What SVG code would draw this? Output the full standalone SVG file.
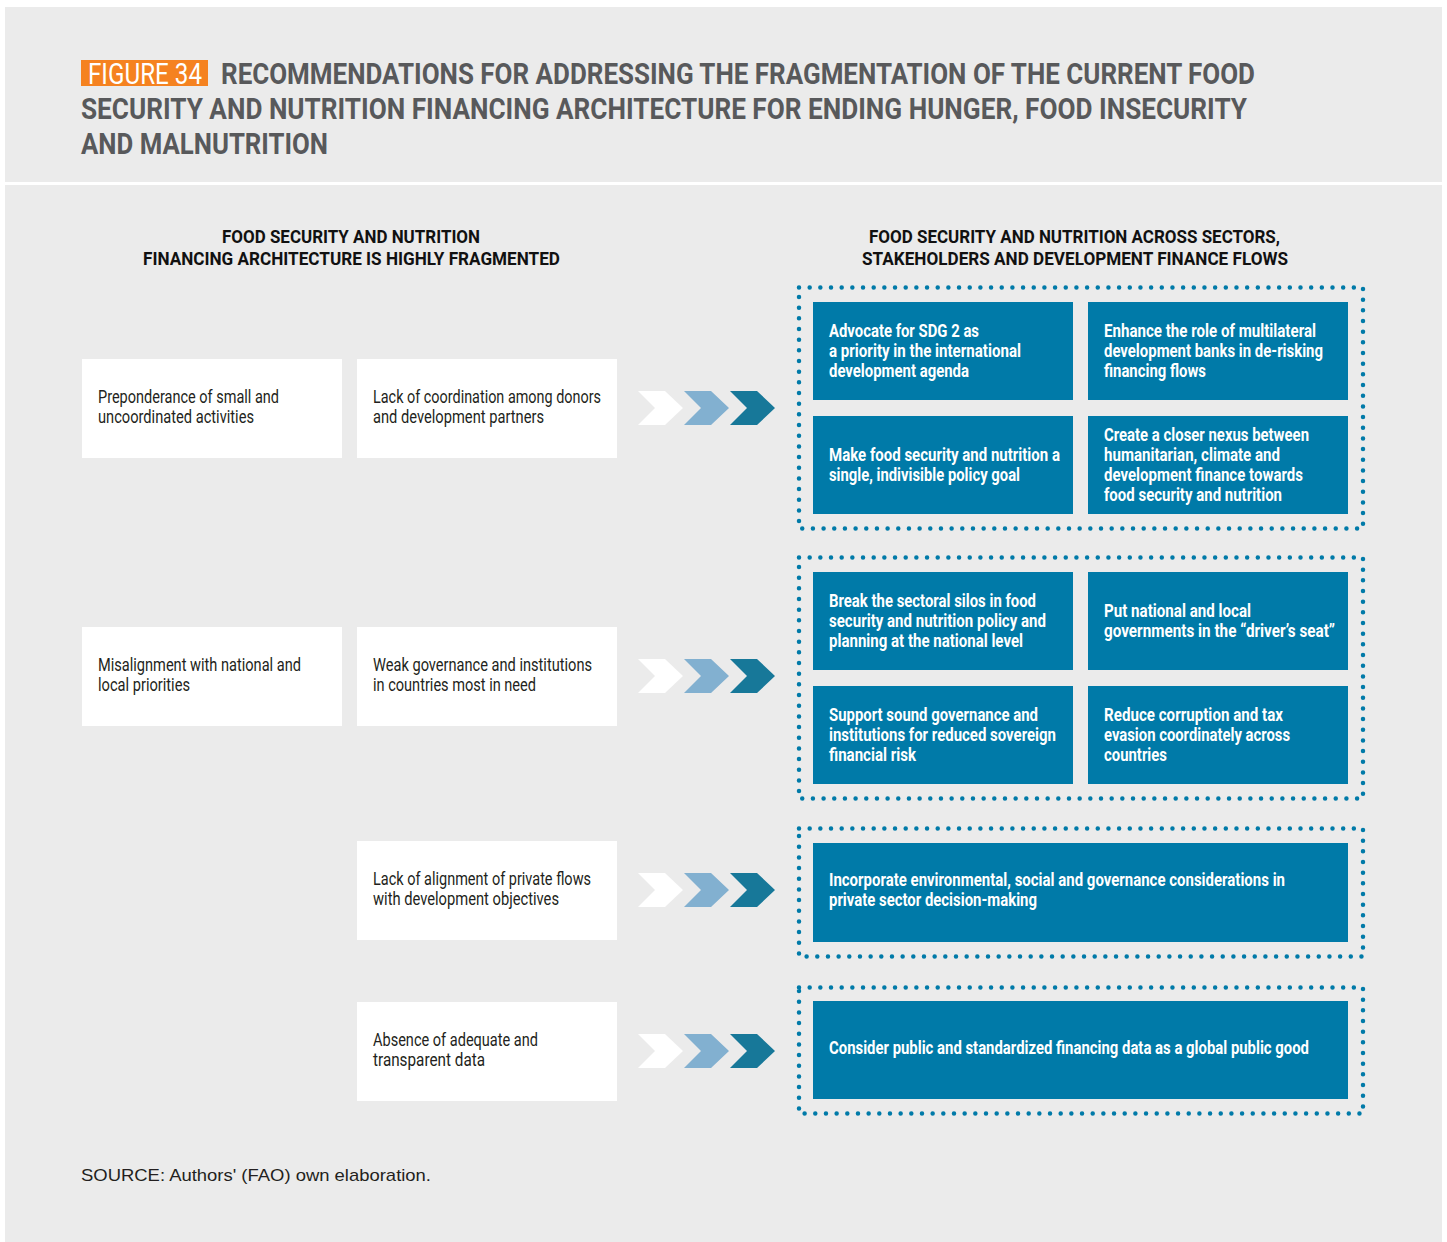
<svg xmlns="http://www.w3.org/2000/svg" width="1447" height="1242" viewBox="0 0 1447 1242">
<style>
.t{font-family:Roboto,"Liberation Sans",sans-serif;}
.title{font-weight:700;font-size:29px;fill:#58595b;}
.fig{font-weight:400;font-size:29px;fill:#ffffff;}
.hdr{font-weight:700;font-size:18.5px;fill:#111111;}
.wt{font-weight:400;font-size:18px;fill:#231f20;}
.bt{font-weight:700;font-size:18px;fill:#ffffff;}
.src{font-family:"Liberation Sans",Arial,sans-serif;font-size:17px;fill:#231f20;}
.wbox{fill:#ffffff;}
.bbox{fill:#007aa8;}
.dots{fill:none;stroke:#007aa8;stroke-width:4.5;stroke-linecap:round;stroke-dasharray:0 10.67;}
.c1{fill:#ffffff;}
.c2{fill:#82b0d0;}
.c3{fill:#177899;}
</style>
<defs>
<polygon id="chev" points="0,-17 27,-17 45,0 27,17 0,17 17,0"/>
</defs>
<rect x="0" y="0" width="1447" height="1242" fill="#ffffff"/>
<rect x="5" y="7" width="1437" height="1235" fill="#ebebeb"/>
<rect x="5" y="182" width="1437" height="3" fill="#ffffff"/>

<g id="title">
<rect x="81" y="60" width="127" height="26" fill="#f58220"/>
<text class="t fig" x="88" y="84" textLength="114" lengthAdjust="spacingAndGlyphs">FIGURE 34</text>
<text class="t title" x="221" y="84" textLength="1034" lengthAdjust="spacingAndGlyphs">RECOMMENDATIONS FOR ADDRESSING THE FRAGMENTATION OF THE CURRENT FOOD</text>
<text class="t title" x="81" y="119" textLength="1166" lengthAdjust="spacingAndGlyphs">SECURITY AND NUTRITION FINANCING ARCHITECTURE FOR ENDING HUNGER, FOOD INSECURITY</text>
<text class="t title" x="81" y="154" textLength="247" lengthAdjust="spacingAndGlyphs">AND MALNUTRITION</text>
</g>

<g id="header-left">
<text class="t hdr" x="222" y="243" textLength="258" lengthAdjust="spacingAndGlyphs">FOOD SECURITY AND NUTRITION</text>
<text class="t hdr" x="143" y="265" textLength="417" lengthAdjust="spacingAndGlyphs">FINANCING ARCHITECTURE IS HIGHLY FRAGMENTED</text>
</g>
<g id="header-right">
<text class="t hdr" x="869" y="243" textLength="411" lengthAdjust="spacingAndGlyphs">FOOD SECURITY AND NUTRITION ACROSS SECTORS,</text>
<text class="t hdr" x="862" y="265" textLength="426" lengthAdjust="spacingAndGlyphs">STAKEHOLDERS AND DEVELOPMENT FINANCE FLOWS</text>
</g>

<!-- problem nodes -->
<g id="p-small-activities">
<rect class="wbox" x="82" y="359" width="260" height="99"/>
<text class="t wt" x="98" y="402.5" textLength="181" lengthAdjust="spacingAndGlyphs">Preponderance of small and</text>
<text class="t wt" x="98" y="422.5" textLength="156" lengthAdjust="spacingAndGlyphs">uncoordinated activities</text>
</g>
<g id="p-coordination">
<rect class="wbox" x="357" y="359" width="260" height="99"/>
<text class="t wt" x="373" y="402.5" textLength="228" lengthAdjust="spacingAndGlyphs">Lack of coordination among donors</text>
<text class="t wt" x="373" y="422.5" textLength="171" lengthAdjust="spacingAndGlyphs">and development partners</text>
</g>
<g id="p-misalignment">
<rect class="wbox" x="82" y="627" width="260" height="99"/>
<text class="t wt" x="98" y="670.5" textLength="203" lengthAdjust="spacingAndGlyphs">Misalignment with national and</text>
<text class="t wt" x="98" y="690.5" textLength="92" lengthAdjust="spacingAndGlyphs">local priorities</text>
</g>
<g id="p-governance">
<rect class="wbox" x="357" y="627" width="260" height="99"/>
<text class="t wt" x="373" y="670.5" textLength="219" lengthAdjust="spacingAndGlyphs">Weak governance and institutions</text>
<text class="t wt" x="373" y="690.5" textLength="163" lengthAdjust="spacingAndGlyphs">in countries most in need</text>
</g>
<g id="p-private-flows">
<rect class="wbox" x="357" y="841" width="260" height="99"/>
<text class="t wt" x="373" y="884.5" textLength="218" lengthAdjust="spacingAndGlyphs">Lack of alignment of private flows</text>
<text class="t wt" x="373" y="904.5" textLength="186" lengthAdjust="spacingAndGlyphs">with development objectives</text>
</g>
<g id="p-data">
<rect class="wbox" x="357" y="1002" width="260" height="99"/>
<text class="t wt" x="373" y="1045.5" textLength="165" lengthAdjust="spacingAndGlyphs">Absence of adequate and</text>
<text class="t wt" x="373" y="1065.5" textLength="112" lengthAdjust="spacingAndGlyphs">transparent data</text>
</g>

<!-- connectors (chevrons) -->
<g id="connectors">
<use href="#chev" class="c1" x="638" y="408"/><use href="#chev" class="c2" x="684" y="408"/><use href="#chev" class="c3" x="730" y="408"/>
<use href="#chev" class="c1" x="638" y="676"/><use href="#chev" class="c2" x="684" y="676"/><use href="#chev" class="c3" x="730" y="676"/>
<use href="#chev" class="c1" x="638" y="890"/><use href="#chev" class="c2" x="684" y="890"/><use href="#chev" class="c3" x="730" y="890"/>
<use href="#chev" class="c1" x="638" y="1051"/><use href="#chev" class="c2" x="684" y="1051"/><use href="#chev" class="c3" x="730" y="1051"/>
</g>

<!-- recommendation groups -->
<g id="group-1">
<rect class="dots" x="799" y="287.5" width="564" height="241"/>
<g id="r-sdg2">
<rect class="bbox" x="813" y="302" width="260" height="98"/>
<text class="t bt" x="829" y="337" textLength="150" lengthAdjust="spacingAndGlyphs">Advocate for SDG 2 as</text>
<text class="t bt" x="829" y="357" textLength="192" lengthAdjust="spacingAndGlyphs">a priority in the international</text>
<text class="t bt" x="829" y="377" textLength="140" lengthAdjust="spacingAndGlyphs">development agenda</text>
</g>
<g id="r-mdb">
<rect class="bbox" x="1088" y="302" width="260" height="98"/>
<text class="t bt" x="1104" y="337" textLength="212" lengthAdjust="spacingAndGlyphs">Enhance the role of multilateral</text>
<text class="t bt" x="1104" y="357" textLength="219" lengthAdjust="spacingAndGlyphs">development banks in de-risking</text>
<text class="t bt" x="1104" y="377" textLength="102" lengthAdjust="spacingAndGlyphs">financing flows</text>
</g>
<g id="r-single-goal">
<rect class="bbox" x="813" y="416" width="260" height="98"/>
<text class="t bt" x="829" y="461" textLength="231" lengthAdjust="spacingAndGlyphs">Make food security and nutrition a</text>
<text class="t bt" x="829" y="481" textLength="191" lengthAdjust="spacingAndGlyphs">single, indivisible policy goal</text>
</g>
<g id="r-nexus">
<rect class="bbox" x="1088" y="416" width="260" height="98"/>
<text class="t bt" x="1104" y="441" textLength="205" lengthAdjust="spacingAndGlyphs">Create a closer nexus between</text>
<text class="t bt" x="1104" y="461" textLength="176" lengthAdjust="spacingAndGlyphs">humanitarian, climate and</text>
<text class="t bt" x="1104" y="481" textLength="199" lengthAdjust="spacingAndGlyphs">development finance towards</text>
<text class="t bt" x="1104" y="501" textLength="178" lengthAdjust="spacingAndGlyphs">food security and nutrition</text>
</g>
</g>

<g id="group-2">
<rect class="dots" x="799" y="557.5" width="564" height="241"/>
<g id="r-silos">
<rect class="bbox" x="813" y="572" width="260" height="98"/>
<text class="t bt" x="829" y="607" textLength="207" lengthAdjust="spacingAndGlyphs">Break the sectoral silos in food</text>
<text class="t bt" x="829" y="627" textLength="217" lengthAdjust="spacingAndGlyphs">security and nutrition policy and</text>
<text class="t bt" x="829" y="647" textLength="194" lengthAdjust="spacingAndGlyphs">planning at the national level</text>
</g>
<g id="r-drivers-seat">
<rect class="bbox" x="1088" y="572" width="260" height="98"/>
<text class="t bt" x="1104" y="617" textLength="147" lengthAdjust="spacingAndGlyphs">Put national and local</text>
<text class="t bt" x="1104" y="637" textLength="231" lengthAdjust="spacingAndGlyphs">governments in the “driver’s seat”</text>
</g>
<g id="r-sound-governance">
<rect class="bbox" x="813" y="686" width="260" height="98"/>
<text class="t bt" x="829" y="721" textLength="209" lengthAdjust="spacingAndGlyphs">Support sound governance and</text>
<text class="t bt" x="829" y="741" textLength="227" lengthAdjust="spacingAndGlyphs">institutions for reduced sovereign</text>
<text class="t bt" x="829" y="761" textLength="87" lengthAdjust="spacingAndGlyphs">financial risk</text>
</g>
<g id="r-corruption">
<rect class="bbox" x="1088" y="686" width="260" height="98"/>
<text class="t bt" x="1104" y="721" textLength="179" lengthAdjust="spacingAndGlyphs">Reduce corruption and tax</text>
<text class="t bt" x="1104" y="741" textLength="186" lengthAdjust="spacingAndGlyphs">evasion coordinately across</text>
<text class="t bt" x="1104" y="761" textLength="63" lengthAdjust="spacingAndGlyphs">countries</text>
</g>
</g>

<g id="group-3">
<rect class="dots" x="799" y="828.5" width="564" height="128"/>
<g id="r-esg">
<rect class="bbox" x="813" y="843" width="535" height="99"/>
<text class="t bt" x="829" y="886" textLength="456" lengthAdjust="spacingAndGlyphs">Incorporate environmental, social and governance considerations in</text>
<text class="t bt" x="829" y="906" textLength="208" lengthAdjust="spacingAndGlyphs">private sector decision-making</text>
</g>
</g>

<g id="group-4">
<rect class="dots" x="799" y="987.5" width="564" height="126"/>
<g id="r-public-data">
<rect class="bbox" x="813" y="1001" width="535" height="98"/>
<text class="t bt" x="829" y="1054" textLength="480" lengthAdjust="spacingAndGlyphs">Consider public and standardized financing data as a global public good</text>
</g>
</g>

<text class="src" x="81" y="1181" textLength="350" lengthAdjust="spacingAndGlyphs">SOURCE: Authors' (FAO) own elaboration.</text>
</svg>
